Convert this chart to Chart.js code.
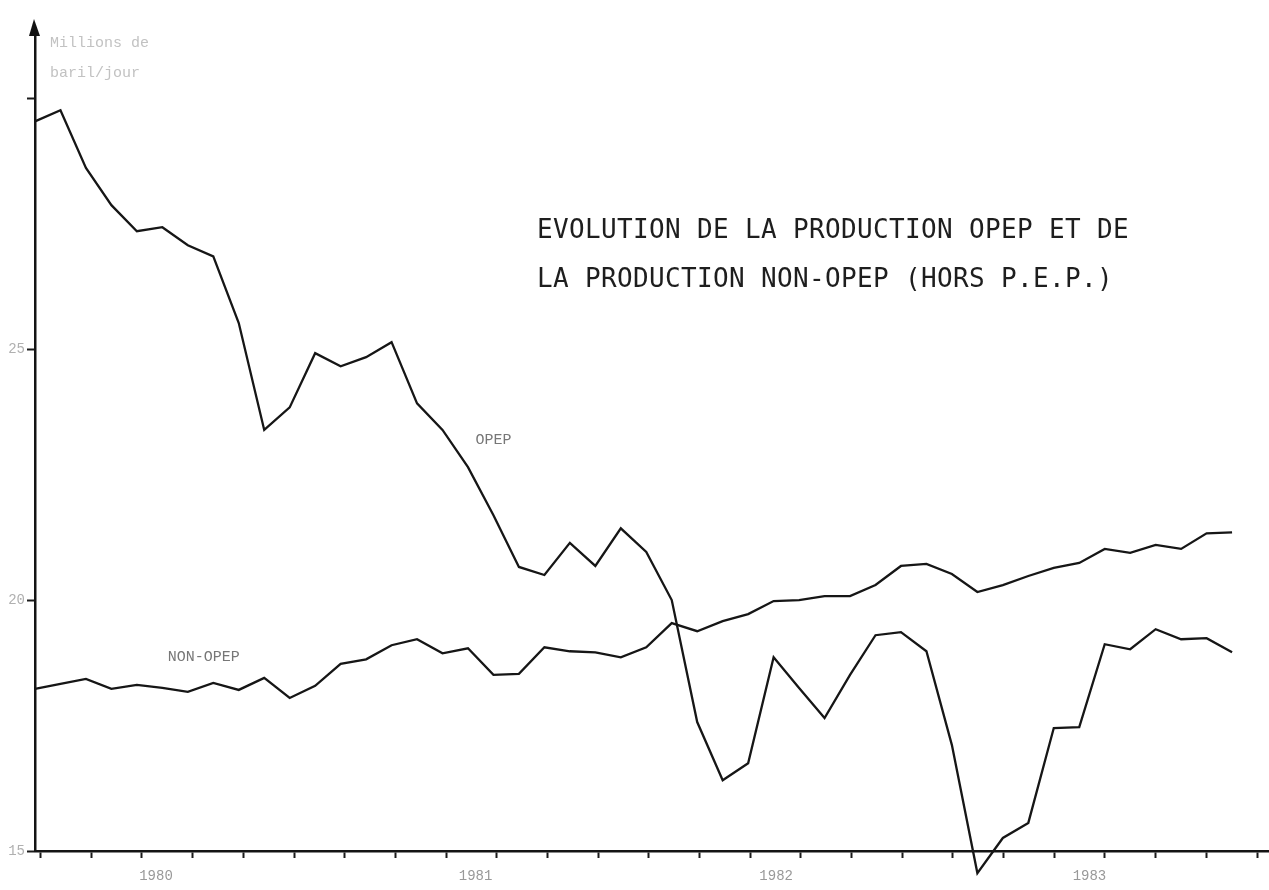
<!DOCTYPE html>
<html>
<head>
<meta charset="utf-8">
<script src="https://cdn.jsdelivr.net/npm/chart.js@4/dist/chart.umd.min.js"></script>
<style>
  html, body { margin: 0; padding: 0; background: #fff; }
  #wrap { width: 1269px; height: 890px; }
</style>
</head>
<body>
<div id="wrap"><canvas id="chart" width="1269" height="890"></canvas></div>
<script>
// -------------------------
// Data (millions de barils/jour, monthly 1980 - 1983)
// -------------------------
const years = ["1980", "1981", "1982", "1983"];
const months = [];
years.forEach(yr => { for (let m = 1; m <= 12; m++) months.push(yr + "-" + String(m).padStart(2, "0")); });

const opep = [
  29.54, 29.76, 28.61, 27.87, 27.35, 27.43, 27.07, 26.85, 25.52, 23.39, 23.84, 24.92,
  24.66, 24.84, 25.14, 23.92, 23.39, 22.65, 21.69, 20.66, 20.50, 21.14, 20.68, 21.43,
  20.96, 20.00, 17.57, 16.41, 16.75, 18.86, 18.25, 17.65, 18.51, 19.30, 19.36, 18.98,
  17.11, 14.56, 15.26, 15.56, 17.45, 17.47, 19.12, 19.02, 19.42, 19.22, 19.24, 18.96
];

const nonOpep = [
  18.23, 18.33, 18.43, 18.23, 18.31, 18.25, 18.17, 18.35, 18.21, 18.45, 18.05, 18.29,
  18.73, 18.82, 19.10, 19.22, 18.94, 19.04, 18.51, 18.53, 19.06, 18.98, 18.96, 18.86,
  19.06, 19.54, 19.38, 19.58, 19.72, 19.98, 20.00, 20.08, 20.08, 20.30, 20.68, 20.72,
  20.52, 20.16, 20.30, 20.48, 20.64, 20.74, 21.02, 20.94, 21.10, 21.02, 21.33, 21.35
];

// y axis ticks
const yTicks = [15, 20, 25, 30];
const yTickLabels = ["15", "20", "25", ""];

// x axis: tick marks every two months, year labels centred on each year
const xTickStart = 0.22;
const xTickStep = 1.99;
const xTickCount = 25;
const yearLabelPos = [4.75, 17.3, 29.1, 41.4];

const xMarks = [];
for (let k = 0; k < xTickCount; k++) xMarks.push(xTickStart + k * xTickStep);

const titleLines = ["EVOLUTION DE LA PRODUCTION OPEP ET DE", "LA PRODUCTION NON-OPEP (HORS P.E.P.)"];
const unitLines = ["Millions de", "baril/jour"];

// -------------------------
// Extra drawing: arrow, title, series names
// -------------------------
const decor = {
  id: "decor",
  afterDraw(chart) {
    const { ctx, scales: { x, y } } = chart;
    ctx.save();

    // arrow head on y axis
    const ax = y.right;
    ctx.fillStyle = "#111";
    ctx.beginPath();
    ctx.moveTo(ax - 1, 19);
    ctx.lineTo(ax - 6, 36);
    ctx.lineTo(ax + 5, 36);
    ctx.closePath();
    ctx.fill();

    // unit label
    ctx.font = '15px "Liberation Mono"';
    ctx.fillStyle = "#c2c2c2";
    ctx.textBaseline = "alphabetic";
    ctx.fillText(unitLines[0], 50, 47);
    ctx.fillText(unitLines[1], 50, 77);

    // title
    ctx.font = '26px "DejaVu Sans Mono"';
    ctx.fillStyle = "#1e1e1e";
    ctx.letterSpacing = "0.35px";
    ctx.fillText(titleLines[0], 537, 238);
    ctx.fillText(titleLines[1], 537, 287);
    ctx.letterSpacing = "0px";

    // series names
    ctx.font = '15px "Liberation Mono"';
    ctx.fillStyle = "#777";
    ctx.textAlign = "center";
    ctx.textBaseline = "middle";
    ctx.fillText("OPEP", x.getPixelForValue(18.0), y.getPixelForValue(23.19));
    ctx.fillText("NON-OPEP", x.getPixelForValue(6.63), y.getPixelForValue(18.86));

    ctx.restore();
  }
};

const ctx = document.getElementById("chart").getContext("2d");
new Chart(ctx, {
  type: "line",
  data: {
    labels: months,
    datasets: [
      {
        label: "OPEP",
        data: opep.map((v, i) => ({ x: i, y: v })),
        borderColor: "#161616",
        borderWidth: 2.3,
        pointRadius: 0,
        tension: 0,
        clip: false
      },
      {
        label: "NON-OPEP",
        data: nonOpep.map((v, i) => ({ x: i, y: v })),
        borderColor: "#161616",
        borderWidth: 2.3,
        pointRadius: 0,
        tension: 0,
        clip: false
      }
    ]
  },
  options: {
    responsive: false,
    animation: false,
    devicePixelRatio: 1,
    layout: { padding: { top: 28, right: 0, left: 0, bottom: 0 } },
    plugins: { legend: { display: false }, title: { display: false }, tooltip: { enabled: false } },
    scales: {
      x: {
        type: "linear",
        min: 0,
        max: 48.45,
        afterFit: s => { s.height = 39; },
        afterBuildTicks: s => {
          s.ticks = xMarks.concat(yearLabelPos).map(v => ({ value: v }));
        },
        border: { display: true, color: "#141414", width: 2.5 },
        grid: {
          drawOnChartArea: false,
          drawTicks: true,
          tickLength: 7,
          tickWidth: 2,
          tickColor: c => (c.index >= xMarks.length ? "rgba(0,0,0,0)" : "#1a1a1a")
        },
        ticks: {
          autoSkip: false,
          maxRotation: 0,
          padding: 10,
          color: "#999",
          font: { family: "Liberation Mono", size: 14 },
          callback: (v, i) => (i >= xMarks.length ? years[i - xMarks.length] : "")
        }
      },
      y: {
        min: 15,
        max: 31.4,
        afterFit: s => { s.width = 35; },
        afterBuildTicks: s => { s.ticks = yTicks.map(v => ({ value: v })); },
        border: { display: true, color: "#141414", width: 2.5 },
        grid: {
          drawOnChartArea: false,
          drawTicks: true,
          tickLength: 8,
          tickWidth: 2,
          tickColor: "#1a1a1a"
        },
        ticks: {
          padding: 2,
          color: "#b0b0b0",
          font: { family: "Liberation Mono", size: 14 },
          callback: (v, i) => yTickLabels[i]
        }
      }
    }
  },
  plugins: [decor]
});
</script>
</body>
</html>
